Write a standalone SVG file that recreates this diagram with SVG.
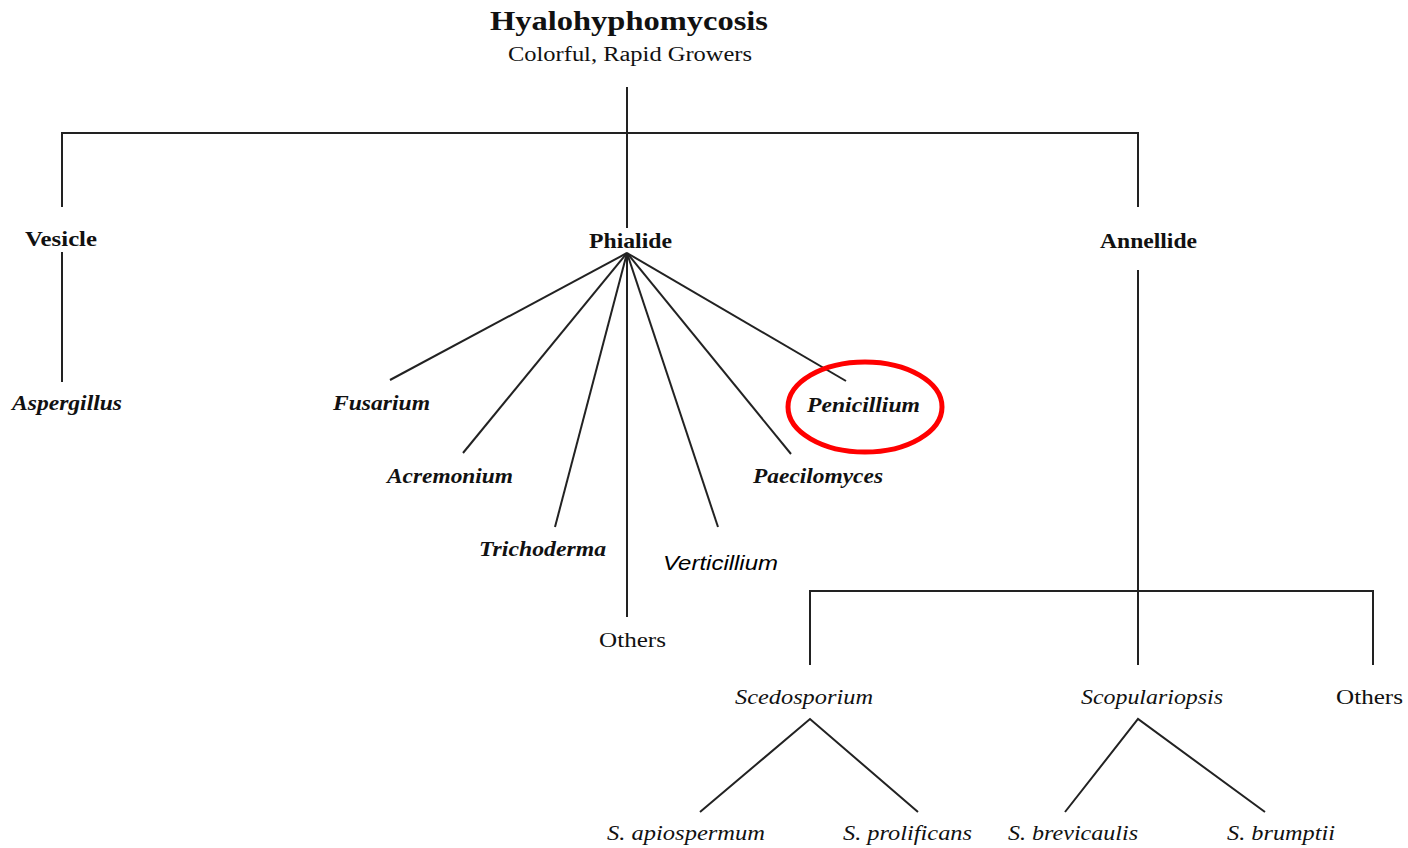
<svg xmlns="http://www.w3.org/2000/svg" width="1408" height="848" viewBox="0 0 1408 848">
  <style>
    text { font-family: "Liberation Serif", "Times New Roman", serif; fill: #111; }
    .title { font-size: 28px; font-weight: bold; }
    .sub { font-size: 20px; }
    .head { font-size: 21px; font-weight: bold; }
    .genus { font-size: 21px; font-weight: bold; font-style: italic; }
    .sp { font-size: 21px; font-style: italic; }
    .plain { font-size: 21px; }
    .sans { font-family: "Liberation Sans", Arial, sans-serif; font-size: 20px; font-style: italic; fill: #000; }
    .links line, .links polyline { stroke: #222; stroke-width: 2; fill: none; }
    .mark { fill: none; stroke: #f00; stroke-width: 5; }
  </style>

  <g id="root">
    <text class="title" x="490" y="30" textLength="278" lengthAdjust="spacingAndGlyphs">Hyalohyphomycosis</text>
    <text class="sub" x="508" y="61" textLength="244" lengthAdjust="spacingAndGlyphs">Colorful, Rapid Growers</text>
  </g>

  <g class="links" id="connectors">
    <!-- top level split -->
    <line x1="627" y1="87" x2="627" y2="228"/>
    <polyline points="62,207 62,133 1138,133 1138,207"/>
    <!-- vesicle branch -->
    <line x1="62" y1="252" x2="62" y2="382"/>
    <!-- phialide fan -->
    <line x1="627" y1="253" x2="390" y2="380"/>
    <line x1="627" y1="253" x2="463" y2="453"/>
    <line x1="627" y1="253" x2="555" y2="527"/>
    <line x1="627" y1="253" x2="627" y2="617"/>
    <line x1="627" y1="253" x2="718" y2="527"/>
    <line x1="627" y1="253" x2="791" y2="454"/>
    <line x1="627" y1="253" x2="846" y2="381"/>
    <!-- annellide branch -->
    <line x1="1138" y1="270" x2="1138" y2="665"/>
    <polyline points="810,665 810,591 1373,591 1373,665"/>
    <!-- species -->
    <polyline points="700,812 810,719 918,812"/>
    <polyline points="1065,812 1138,719 1265,812"/>
  </g>

  <g id="vesicle">
    <text class="head" x="25" y="246" textLength="72" lengthAdjust="spacingAndGlyphs">Vesicle</text>
  </g>
  <g id="phialide">
    <text class="head" x="589" y="248" textLength="83" lengthAdjust="spacingAndGlyphs">Phialide</text>
  </g>
  <g id="annellide">
    <text class="head" x="1100" y="248" textLength="97" lengthAdjust="spacingAndGlyphs">Annellide</text>
  </g>

  <g id="aspergillus">
    <text class="genus" x="12" y="410" textLength="110" lengthAdjust="spacingAndGlyphs">Aspergillus</text>
  </g>
  <g id="fusarium">
    <text class="genus" x="333" y="410" textLength="97" lengthAdjust="spacingAndGlyphs">Fusarium</text>
  </g>
  <g id="acremonium">
    <text class="genus" x="387" y="483" textLength="126" lengthAdjust="spacingAndGlyphs">Acremonium</text>
  </g>
  <g id="trichoderma">
    <text class="genus" x="479" y="556" textLength="127" lengthAdjust="spacingAndGlyphs">Trichoderma</text>
  </g>
  <g id="others-phialide">
    <text class="plain" x="599" y="647" textLength="67" lengthAdjust="spacingAndGlyphs">Others</text>
  </g>
  <g id="verticillium">
    <text class="sans" x="663" y="570" textLength="115" lengthAdjust="spacingAndGlyphs">Verticillium</text>
  </g>
  <g id="paecilomyces">
    <text class="genus" x="753" y="483" textLength="130" lengthAdjust="spacingAndGlyphs">Paecilomyces</text>
  </g>
  <g id="penicillium">
    <ellipse class="mark" cx="865" cy="407" rx="77" ry="45"/>
    <text class="genus" x="807" y="412" textLength="113" lengthAdjust="spacingAndGlyphs">Penicillium</text>
  </g>

  <g id="scedosporium">
    <text class="sp" x="735" y="704" textLength="138" lengthAdjust="spacingAndGlyphs">Scedosporium</text>
  </g>
  <g id="scopulariopsis">
    <text class="sp" x="1081" y="704" textLength="142" lengthAdjust="spacingAndGlyphs">Scopulariopsis</text>
  </g>
  <g id="others-annellide">
    <text class="plain" x="1336" y="704" textLength="67" lengthAdjust="spacingAndGlyphs">Others</text>
  </g>

  <g id="s-apiospermum">
    <text class="sp" x="607" y="840" textLength="158" lengthAdjust="spacingAndGlyphs">S. apiospermum</text>
  </g>
  <g id="s-prolificans">
    <text class="sp" x="843" y="840" textLength="129" lengthAdjust="spacingAndGlyphs">S. prolificans</text>
  </g>
  <g id="s-brevicaulis">
    <text class="sp" x="1008" y="840" textLength="130" lengthAdjust="spacingAndGlyphs">S. brevicaulis</text>
  </g>
  <g id="s-brumptii">
    <text class="sp" x="1227" y="840" textLength="108" lengthAdjust="spacingAndGlyphs">S. brumptii</text>
  </g>
</svg>
